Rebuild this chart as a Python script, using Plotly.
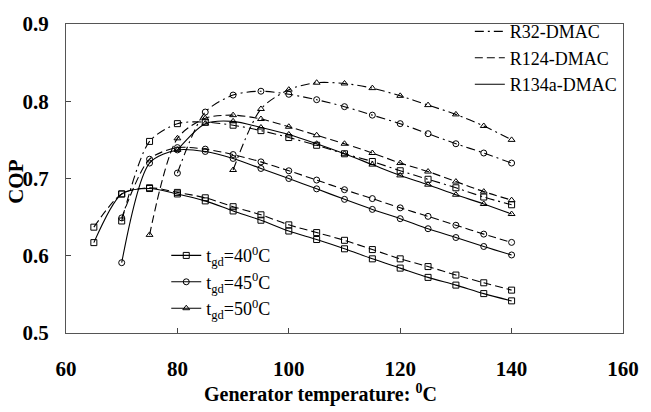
import plotly.graph_objects as go

T65 = [65, 70, 75, 80, 85, 90, 95, 100, 105, 110, 115, 120, 125, 130, 135, 140]
T70 = T65[1:]
T75 = T65[2:]
T80 = T65[3:]
T90 = T65[5:]

# tgd = 40 C (squares)
r32_40 = [0.645, 0.748, 0.771, 0.773, 0.769, 0.762, 0.753, 0.743, 0.732, 0.722, 0.710, 0.699, 0.688, 0.676, 0.666]
r124_40 = [0.637, 0.680, 0.688, 0.682, 0.675, 0.6635, 0.653, 0.640, 0.630, 0.620, 0.608, 0.596, 0.586, 0.575, 0.565, 0.5555]
r134a_40 = [0.617, 0.680, 0.687, 0.680, 0.671, 0.658, 0.646, 0.632, 0.621, 0.609, 0.596, 0.584, 0.572, 0.562, 0.551, 0.5416]

# tgd = 45 C (circles)
r32_45 = [0.707, 0.786, 0.808, 0.813, 0.809, 0.802, 0.793, 0.782, 0.771, 0.758, 0.745, 0.733, 0.720]
r124_45 = [0.649, 0.725, 0.740, 0.738, 0.731, 0.7215, 0.710, 0.698, 0.6855, 0.674, 0.662, 0.651, 0.6395, 0.628, 0.6173]
r134a_45 = [0.591, 0.720, 0.737, 0.735, 0.726, 0.713, 0.700, 0.6866, 0.673, 0.660, 0.648, 0.635, 0.6236, 0.612, 0.601]

# tgd = 50 C (triangles)
r32_50 = [0.711, 0.790, 0.815, 0.824, 0.823, 0.817, 0.807, 0.795, 0.783, 0.768, 0.750]
r124_50 = [0.627, 0.752, 0.778, 0.782, 0.777, 0.767, 0.756, 0.745, 0.733, 0.720, 0.709, 0.696, 0.683, 0.672]
r134a_50 = [0.737, 0.771, 0.774, 0.766, 0.757, 0.745, 0.732, 0.718, 0.704, 0.692, 0.679, 0.667, 0.654]

fluid_names = ["R32-DMAC", "R124-DMAC", "R134a-DMAC"]
tgd_names = ["t<sub>gd</sub>=40<sup>0</sup>C", "t<sub>gd</sub>=45<sup>0</sup>C", "t<sub>gd</sub>=50<sup>0</sup>C"]
x_ticks = [60, 80, 100, 120, 140, 160]
y_ticks = [0.5, 0.6, 0.7, 0.8, 0.9]

DASHES = {"R32-DMAC": "9px,4px,2px,4px", "R124-DMAC": "8px,4px", "R134a-DMAC": "solid"}
SYMS = ["square-open", "circle-open", "triangle-up-open"]

series = [
    ("R32-DMAC", 0, T70, r32_40),
    ("R124-DMAC", 0, T65, r124_40),
    ("R134a-DMAC", 0, T65, r134a_40),
    ("R32-DMAC", 1, T80, r32_45),
    ("R124-DMAC", 1, T70, r124_45),
    ("R134a-DMAC", 1, T70, r134a_45),
    ("R32-DMAC", 2, T90, r32_50),
    ("R124-DMAC", 2, T75, r124_50),
    ("R134a-DMAC", 2, T80, r134a_50),
]

fig = go.Figure()
for fl, k, xs, ys in series:
    fig.add_trace(go.Scatter(
        x=xs, y=ys, mode="lines+markers",
        line=dict(color="black", width=1.1, dash=DASHES[fl], shape="spline", smoothing=0.8),
        marker=dict(symbol=SYMS[k], size=6, color="black", line=dict(width=1, color="black")),
        showlegend=False, hoverinfo="skip"))

for fl in fluid_names:
    fig.add_trace(go.Scatter(
        x=[None], y=[None], mode="lines", name=fl,
        line=dict(color="black", width=1.1, dash=DASHES[fl]), legend="legend"))

for k, nm in enumerate(tgd_names):
    fig.add_trace(go.Scatter(
        x=[None], y=[None], mode="lines+markers", name=nm,
        line=dict(color="black", width=1.1),
        marker=dict(symbol=SYMS[k], size=6, color="black", line=dict(width=1, color="black")),
        legend="legend2"))

FONT = "Liberation Serif, Times New Roman, serif"
fig.update_layout(
    width=651, height=412,
    margin=dict(l=66, r=18, t=16, b=79),
    paper_bgcolor="white", plot_bgcolor="white",
    font=dict(family=FONT, color="black"),
    legend=dict(x=0.725, y=1.035, xanchor="left", yanchor="top",
                font=dict(family=FONT, size=18), bgcolor="rgba(0,0,0,0)",
                tracegroupgap=0, itemwidth=30),
    legend2=dict(x=0.18, y=0.31, xanchor="left", yanchor="top",
                 font=dict(family=FONT, size=18), bgcolor="rgba(0,0,0,0)",
                 tracegroupgap=0, itemwidth=30),
    annotations=[
        dict(text="Generator temperature: <sup>0</sup>C", xref="paper", yref="paper",
             x=(325 - 66) / 567, y=(333 - 395) / 317, xanchor="center", yanchor="middle",
             showarrow=False, font=dict(family=FONT, size=20, weight="bold", color="black")),
        dict(text="COP", xref="paper", yref="paper", textangle=-90,
             x=(15 - 66) / 567, y=(333 - 177) / 317, xanchor="center", yanchor="middle",
             showarrow=False, font=dict(family=FONT, size=21, weight="bold", color="black")),
    ],
)
fig.update_xaxes(
    range=[60, 160], tickvals=x_ticks,
    ticks="inside", ticklen=5, tickcolor="#444", showgrid=False, zeroline=False,
    showline=True, linecolor="#555", linewidth=1, mirror=True,
    tickfont=dict(family=FONT, size=21, color="black", weight="bold"),
    ticklabelstandoff=17)
fig.update_yaxes(
    range=[0.5, 0.9], tickvals=y_ticks, ticktext=[f"{v:.1f}" for v in y_ticks],
    ticks="inside", ticklen=5, tickcolor="#444", showgrid=False, zeroline=False,
    showline=True, linecolor="#555", linewidth=1, mirror=True,
    tickfont=dict(family=FONT, size=21, color="black", weight="bold"),
    ticklabelstandoff=12)

fig.write_html("out.html")
